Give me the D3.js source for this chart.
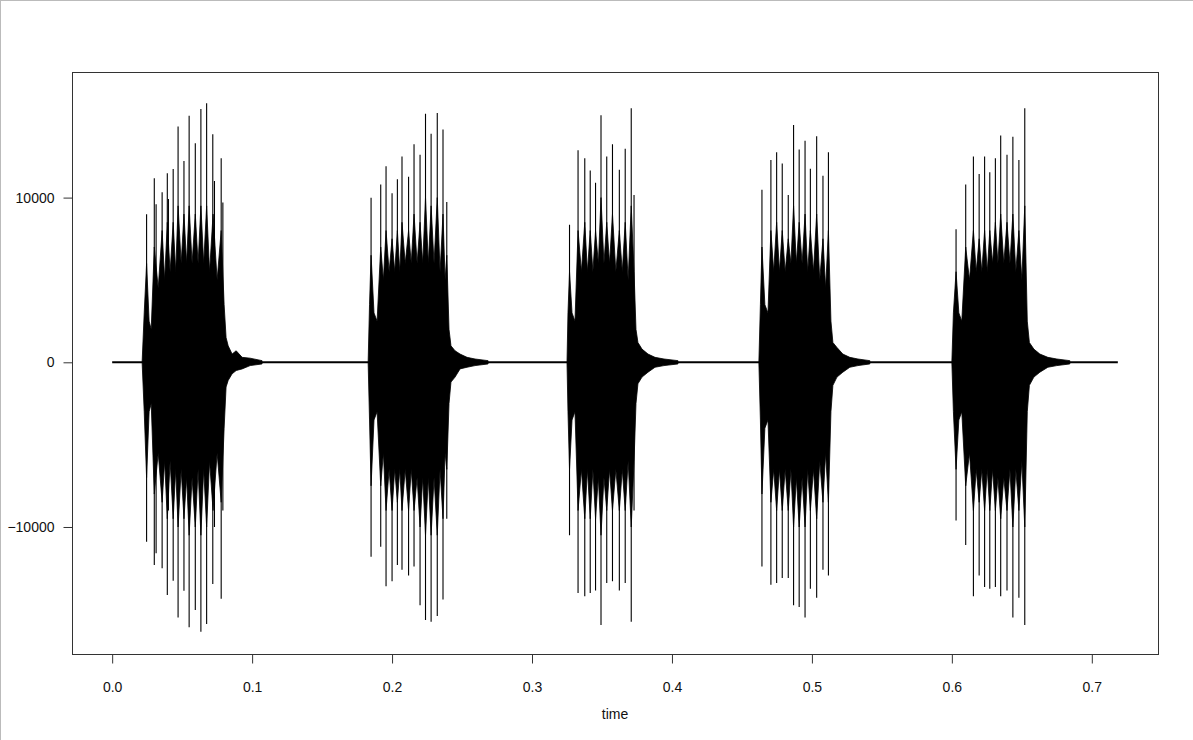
<!DOCTYPE html>
<html lang="en">
<head>
    <meta charset="UTF-8" />
    <title>waveform</title>
    <script src="https://d3js.org/d3.v7.min.js"></script>
    <style>
        body { margin: 0; background: #fff; }
        text { font-family: "Liberation Sans", Arial, sans-serif; }
    </style>
</head>
<body>
    <svg id="wave" width="1193" height="740"></svg>
    <script>
        // axis setup
        const xTicks = [0, 0.1, 0.2, 0.3, 0.4, 0.5, 0.6, 0.7];
        const yTicks = [-10000, 0, 10000];
        const xDomain = [-0.0287, 0.7473];
        const yDomain = [-17711, 17626];
        const xLabel = "time";

        // silent stretch of the signal (start / end time)
        const baseline = [0, 0.7186];

        // dense core of each burst: [time, upper, lower]
        const core1 = [
            [0.0214, 0, 0], [0.0229, 3000, -3000], [0.0246, 6000, -7000], [0.0264, 2500, -3000],
            [0.0279, 2000, -2500], [0.0301, 7000, -8000], [0.0329, 4500, -5500], [0.0357, 8000, -8500],
            [0.0375, 5000, -6000], [0.0394, 8500, -9500], [0.0414, 5500, -6000], [0.0436, 8500, -9500],
            [0.0454, 5500, -6500], [0.0471, 9500, -10000], [0.0493, 6000, -6500], [0.0513, 9000, -9500],
            [0.0532, 6000, -7000], [0.0550, 9500, -10500], [0.0571, 6000, -7000], [0.0594, 9000, -10000],
            [0.0614, 6000, -6500], [0.0634, 9500, -10500], [0.0654, 6000, -6500], [0.0675, 9500, -10000],
            [0.0696, 5500, -6000], [0.0721, 9000, -9000], [0.0750, 5000, -5500], [0.0779, 8000, -8500],
            [0.0800, 3500, -4000], [0.0814, 1500, -1500], [0.0829, 1000, -1100], [0.0857, 500, -700],
            [0.0886, 700, -500], [0.0929, 300, -400], [0.0986, 250, -200], [0.1071, 100, -100]
        ];
        const core2 = [
            [0.1829, 0, 0], [0.1839, 3500, -3500], [0.1850, 6500, -7500], [0.1871, 3000, -3500],
            [0.1893, 2500, -3000], [0.1919, 7000, -7500], [0.1938, 5000, -5500], [0.1957, 8000, -9000],
            [0.1979, 5500, -6500], [0.2000, 7500, -9000], [0.2019, 5500, -6500], [0.2038, 8000, -8500],
            [0.2055, 5500, -6500], [0.2071, 8500, -9000], [0.2094, 6000, -6500], [0.2118, 8000, -9000],
            [0.2137, 6000, -6500], [0.2157, 9000, -9000], [0.2179, 6000, -7000], [0.2200, 8500, -10000],
            [0.2219, 6000, -7000], [0.2239, 10000, -10500], [0.2259, 6000, -7000], [0.2279, 9500, -10500],
            [0.2300, 6000, -7000], [0.2323, 10000, -10500], [0.2343, 5500, -6500], [0.2364, 9000, -9500],
            [0.2379, 5000, -5500], [0.2391, 6500, -6500], [0.2407, 2000, -2500], [0.2421, 1000, -1200],
            [0.2450, 700, -900], [0.2486, 500, -400], [0.2536, 300, -300], [0.2593, 200, -200],
            [0.2686, 100, -100]
        ];
        const core3 = [
            [0.3250, 0, 0], [0.3257, 3000, -3000], [0.3268, 5500, -6500], [0.3286, 3000, -3500],
            [0.3307, 2500, -3000], [0.3329, 8000, -9000], [0.3353, 5500, -6500], [0.3377, 8500, -9500],
            [0.3396, 5500, -6500], [0.3416, 8000, -9500], [0.3435, 5500, -6500], [0.3454, 8000, -9500],
            [0.3474, 6000, -7000], [0.3493, 10000, -10500], [0.3514, 6000, -7000], [0.3534, 8500, -9000],
            [0.3554, 6000, -6500], [0.3575, 9000, -9000], [0.3599, 5500, -6500], [0.3624, 8000, -9000],
            [0.3645, 5500, -6500], [0.3666, 8500, -9000], [0.3687, 5000, -6000], [0.3709, 9500, -10000],
            [0.3729, 5500, -6000], [0.3743, 2000, -2500], [0.3757, 1200, -1300], [0.3786, 800, -900],
            [0.3829, 500, -600], [0.3879, 300, -300], [0.3943, 200, -200], [0.4043, 100, -100]
        ];
        const core4 = [
            [0.4621, 0, 0], [0.4632, 3500, -3500], [0.4643, 7000, -8000], [0.4664, 3500, -4000],
            [0.4686, 3000, -3500], [0.4707, 8000, -8500], [0.4727, 5500, -6500], [0.4748, 8500, -9000],
            [0.4768, 5500, -6500], [0.4788, 8000, -9000], [0.4809, 5500, -6500], [0.4831, 7500, -9000],
            [0.4850, 6000, -6500], [0.4869, 9500, -10000], [0.4889, 6000, -7000], [0.4909, 8500, -10000],
            [0.4930, 6000, -7000], [0.4951, 9000, -10000], [0.4970, 5500, -6500], [0.4989, 8000, -9000],
            [0.5011, 5500, -6500], [0.5034, 9000, -9500], [0.5056, 5000, -6000], [0.5079, 7500, -8500],
            [0.5098, 4500, -5500], [0.5118, 8000, -8500], [0.5136, 2500, -3000], [0.5150, 1200, -1400],
            [0.5179, 900, -900], [0.5221, 500, -600], [0.5271, 300, -300], [0.5329, 200, -200],
            [0.5414, 100, -100]
        ];
        const core5 = [
            [0.6000, 0, 0], [0.6011, 3000, -3000], [0.6030, 5500, -6500], [0.6050, 3000, -3500],
            [0.6071, 2500, -3000], [0.6099, 7000, -7500], [0.6126, 5000, -5500], [0.6154, 8000, -9000],
            [0.6174, 5500, -6500], [0.6195, 7500, -8500], [0.6214, 5500, -6500], [0.6234, 8000, -9000],
            [0.6253, 5500, -6500], [0.6271, 8000, -9000], [0.6291, 6000, -6500], [0.6311, 8500, -9000],
            [0.6329, 6000, -7000], [0.6349, 9000, -9500], [0.6371, 6000, -7000], [0.6394, 8500, -9000],
            [0.6415, 6000, -6500], [0.6436, 9000, -10000], [0.6457, 5500, -6500], [0.6479, 8000, -9000],
            [0.6500, 5000, -6000], [0.6521, 9500, -10000], [0.6539, 2500, -3000], [0.6554, 1200, -1400],
            [0.6586, 800, -900], [0.6629, 500, -600], [0.6686, 300, -300], [0.6750, 200, -200],
            [0.6843, 100, -100]
        ];

        // glottal pulses of each burst: [time, peak, trough]
        const spikes1 = [
            [0.0246, 8990, -10890], [0.0301, 11170, -12310], [0.0314, 9590, -11600], [0.0357, 10320, -12510],
            [0.0394, 11480, -14130], [0.0402, 9920, -9000], [0.0436, 11740, -13260], [0.0471, 14310, -15500],
            [0.0513, 12220, -13870], [0.0550, 14970, -16090], [0.0594, 13300, -15040], [0.0634, 15380, -16360],
            [0.0675, 15730, -15890], [0.0719, 13840, -13460], [0.0731, 11010, -10000], [0.0779, 12390, -14350],
            [0.0791, 9710, -9000]
        ];
        const spikes2 = [
            [0.1850, 9990, -11800], [0.1919, 10800, -11200], [0.1957, 11900, -13600], [0.2000, 10260, -13300],
            [0.2038, 11110, -12300], [0.2071, 12500, -12600], [0.2118, 11260, -12950], [0.2157, 13240, -12400],
            [0.2200, 12600, -14750], [0.2239, 15090, -15650], [0.2279, 13870, -15750], [0.2323, 15130, -15400],
            [0.2364, 14130, -14400], [0.2391, 9730, -9500]
        ];
        const spikes3 = [
            [0.3268, 8350, -10500], [0.3329, 12880, -14000], [0.3377, 12390, -14200], [0.3416, 11650, -14000],
            [0.3454, 10900, -13850], [0.3493, 15000, -15950], [0.3534, 12500, -13400], [0.3575, 13240, -13300],
            [0.3624, 11690, -13850], [0.3666, 12960, -13400], [0.3709, 15430, -15750], [0.3729, 10160, -9000]
        ];
        const spikes4 = [
            [0.4643, 10470, -12400], [0.4707, 12280, -13500], [0.4748, 12750, -13400], [0.4788, 12070, -13100],
            [0.4831, 10160, -13100], [0.4869, 14410, -14750], [0.4909, 12920, -14850], [0.4951, 13450, -15500],
            [0.4989, 11750, -13750], [0.5034, 13730, -14300], [0.5079, 11320, -12600], [0.5118, 12750, -12950]
        ];
        const spikes5 = [
            [0.6030, 8080, -9600], [0.6099, 10800, -11100], [0.6154, 12500, -14200], [0.6195, 11430, -12950],
            [0.6234, 12500, -13650], [0.6271, 11540, -13750], [0.6311, 12390, -13650], [0.6349, 13770, -14200],
            [0.6394, 12600, -13850], [0.6436, 13700, -15500], [0.6479, 12280, -14300], [0.6521, 15430, -15950]
        ];

        const cores = [core1, core2, core3, core4, core5];
        const spikes = [spikes1, spikes2, spikes3, spikes4, spikes5];

        const svg = d3.select("svg#wave");
        const margins = { top: 72, right: 35, bottom: 86, left: 72 };
        const svgWidth = +svg.attr("width");
        const svgHeight = +svg.attr("height");
        const chartWidth = svgWidth - margins.left - margins.right;
        const chartHeight = svgHeight - margins.top - margins.bottom;

        // faint frame on the top and left edge of the picture
        svg.append("line").attr("x1", 0.5).attr("y1", 0).attr("x2", 0.5).attr("y2", svgHeight)
            .attr("stroke", "#bbb");
        svg.append("line").attr("x1", 0).attr("y1", 0.5).attr("x2", svgWidth).attr("y2", 0.5)
            .attr("stroke", "#bbb");

        const xScale = d3.scaleLinear().domain(xDomain).range([0, chartWidth]);
        const yScale = d3.scaleLinear().domain(yDomain).range([chartHeight, 0]);

        const chartArea = svg.append("g")
            .attr("transform", `translate(${margins.left},${margins.top})`);

        // baseline
        chartArea.append("line")
            .attr("x1", xScale(baseline[0])).attr("x2", xScale(baseline[1]))
            .attr("y1", yScale(0)).attr("y2", yScale(0))
            .attr("stroke", "black").attr("stroke-width", 2);

        const coreArea = d3.area()
            .x(d => xScale(d[0]))
            .y0(d => yScale(d[2]))
            .y1(d => yScale(d[1]));

        chartArea.selectAll("path.core")
            .data(cores)
            .join("path")
            .attr("class", "core")
            .attr("fill", "black")
            .attr("stroke", "black")
            .attr("stroke-width", 0.8)
            .attr("stroke-linejoin", "bevel")
            .attr("d", coreArea);

        chartArea.selectAll("g.burst")
            .data(spikes)
            .join("g")
            .attr("class", "burst")
            .selectAll("line")
            .data(d => d)
            .join("line")
            .attr("x1", d => xScale(d[0]))
            .attr("x2", d => xScale(d[0]))
            .attr("y1", d => yScale(d[2]))
            .attr("y2", d => yScale(d[1]))
            .attr("stroke", "black")
            .attr("stroke-width", 1.1);

        // frame
        svg.append("rect")
            .attr("x", margins.left + 0.5).attr("y", margins.top + 0.5)
            .attr("width", chartWidth).attr("height", chartHeight)
            .attr("fill", "none").attr("stroke", "#333").attr("stroke-width", 1);

        const bottomAxis = d3.axisBottom(xScale)
            .tickValues(xTicks)
            .tickFormat(d3.format(".1f"))
            .tickSize(9)
            .tickSizeOuter(0)
            .tickPadding(19);

        const xAxis = svg.append("g")
            .attr("transform", `translate(${margins.left},${margins.top + chartHeight + 0.5})`)
            .call(bottomAxis);
        xAxis.select(".domain").remove();

        const leftAxis = d3.axisLeft(yScale)
            .tickValues(yTicks)
            .tickFormat(d3.format("d"))
            .tickSize(9)
            .tickSizeOuter(0)
            .tickPadding(9);

        const yAxis = svg.append("g")
            .attr("transform", `translate(${margins.left + 0.5},${margins.top})`)
            .call(leftAxis);
        yAxis.select(".domain").remove();

        svg.selectAll(".tick line").attr("stroke", "#333");
        svg.selectAll(".tick text").attr("font-size", 14).attr("fill", "#111")
            .style("font-family", "'Liberation Sans', Arial, sans-serif");

        svg.append("text")
            .attr("x", margins.left + chartWidth / 2)
            .attr("y", 719)
            .attr("text-anchor", "middle")
            .attr("font-size", 14)
            .attr("fill", "#111")
            .text(xLabel);
    </script>
</body>
</html>
